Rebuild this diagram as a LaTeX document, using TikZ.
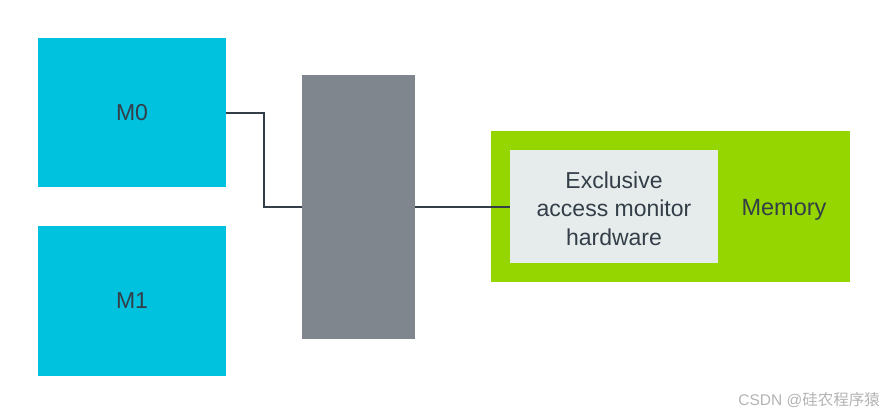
\documentclass[tikz,border=0pt]{standalone}
\usepackage{fontspec}
\setmainfont{Liberation Sans}
\newfontfamily\cjk{Noto Sans CJK SC}
\definecolor{mcyan}{HTML}{00C1DE}
\definecolor{mgray}{HTML}{7F868D}
\definecolor{mgreen}{HTML}{95D600}
\definecolor{mlight}{HTML}{E5ECEB}
\definecolor{mtext}{HTML}{333E48}
\definecolor{mwm}{HTML}{B4B4B4}
\begin{document}
\begin{tikzpicture}[x=1pt,y=-1pt,
  blk/.style={inner sep=0pt, outer sep=0pt, text=mtext, font=\fontsize{23}{28.5}\selectfont, align=center},
  wire/.style={draw=mtext, line width=1.2pt}]
\useasboundingbox (0,0) rectangle (888,415);
\fill[white] (0,0) rectangle (888,415);
\node[blk, fill=mcyan, minimum width=188pt, minimum height=149pt, anchor=north west] (m0) at (38,38) {M0};
\node[blk, fill=mcyan, minimum width=188pt, minimum height=150pt, anchor=north west] (m1) at (38,226) {M1};
\node[blk, fill=mgray, minimum width=113pt, minimum height=264pt, anchor=north west] (bus) at (302,75) {};
\node[blk, fill=mgreen, minimum width=359pt, minimum height=151pt, anchor=north west] (mem) at (491,131) {};
\node[blk, fill=mlight, minimum width=208pt, minimum height=113pt, anchor=north west,
  label={[blk, yshift=-2pt]center:{Exclusive\\access monitor\\hardware}}] (mon) at (510,150) {};
\node[blk, anchor=center, font=\fontsize{23.5}{28}\selectfont] (memlbl) at (784,210) {Memory};
\coordinate (c1) at (264,113);
\coordinate (c2) at (264,207);
\draw[wire] (m0.east |- 0,113) -- (c1) -- (c2) -- (bus.west |- c2);
\draw[wire] (bus.east |- 0,207) -- (mon.west |- 0,207);
\node[anchor=east, text=mwm, font=\fontsize{15.5}{17}\selectfont, inner sep=0pt] (wm) at (880,400) {CSDN @{\cjk 硅农程序猿}};
\end{tikzpicture}
\end{document}
